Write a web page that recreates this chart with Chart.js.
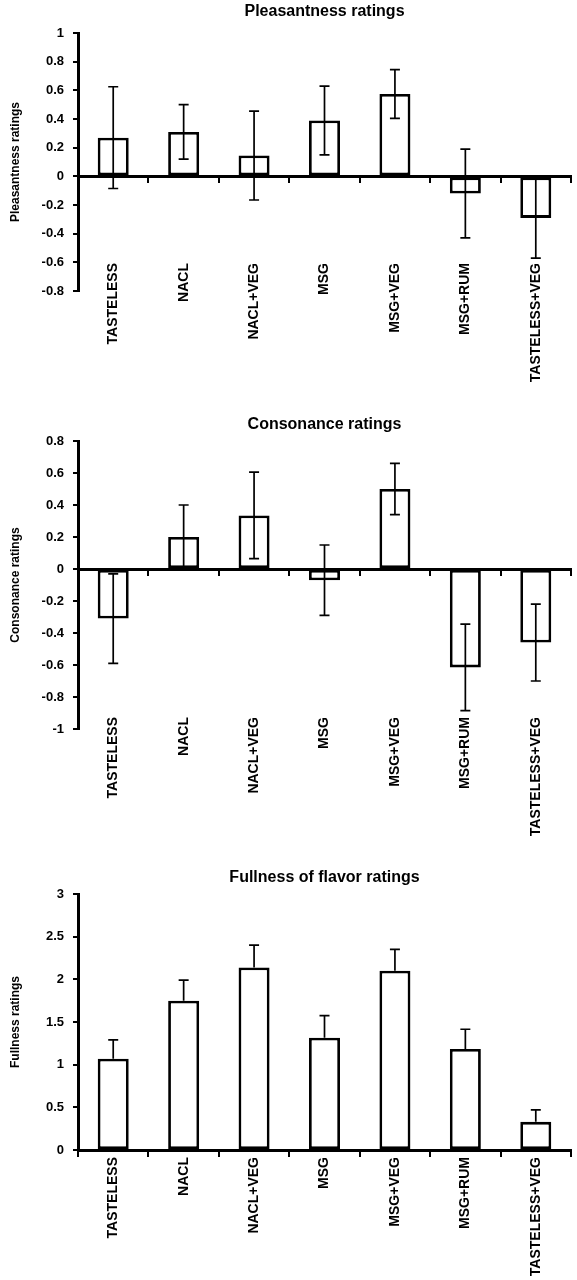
<!DOCTYPE html>
<html>
<head>
<meta charset="utf-8">
<script src="https://cdn.jsdelivr.net/npm/chart.js@4"></script>
<style>
  body { margin: 0; background: #fff; }
  canvas { position: absolute; left: 0; }
</style>
</head>
<body>
<canvas id="pleas" width="577" height="385" style="top:0px"></canvas>
<canvas id="cons" width="577" height="440" style="top:400px"></canvas>
<canvas id="full" width="577" height="420" style="top:860px"></canvas>
<script>
// CATEGORIES (same for all three panels)
const foods = ['TASTELESS', 'NACL', 'NACL+VEG', 'MSG', 'MSG+VEG', 'MSG+RUM', 'TASTELESS+VEG'];

// PLEASANTNESS
const pleasMean = [0.27, 0.31, 0.145, 0.39, 0.575, -0.12, -0.29];
const pleasErr = [0.355, 0.19, 0.31, 0.24, 0.17, 0.31, 0.28];
const pleasTicks = [-0.8, -0.6, -0.4, -0.2, 0, 0.2, 0.4, 0.6, 0.8, 1];

// CONSONANCE
const consMean = [-0.31, 0.2, 0.335, -0.07, 0.5, -0.615, -0.46];
const consErr = [0.28, 0.2, 0.27, 0.22, 0.16, 0.27, 0.24];
const consTicks = [-1, -0.8, -0.6, -0.4, -0.2, 0, 0.2, 0.4, 0.6, 0.8];

// FULLNESS OF FLAVOR
const fullMean = [1.07, 1.75, 2.14, 1.315, 2.1, 1.185, 0.33];
const fullErr = [0.22, 0.24, 0.26, 0.26, 0.25, 0.23, 0.14];
const fullTicks = [0, 0.5, 1, 1.5, 2, 2.5, 3];

Chart.defaults.font.family = "'Liberation Sans', Arial, sans-serif";
Chart.defaults.color = '#000';

// ERROR BARS, drawn on top of the bars
const errorBars = {
    id: 'errorBars',
    afterDatasetsDraw(chart) {
        const ds = chart.data.datasets[0];
        const meta = chart.getDatasetMeta(0);
        const y = chart.scales.y;
        const ctx = chart.ctx;
        ctx.save();
        ctx.strokeStyle = '#000';
        ctx.lineWidth = 1.7;
        meta.data.forEach((bar, i) => {
            const v = ds.data[i];
            const e = ds.errors[i];
            const top = y.getPixelForValue(v + e);
            const bot = ds.upOnly ? y.getPixelForValue(v) : y.getPixelForValue(v - e);
            ctx.beginPath();
            ctx.moveTo(bar.x, top);
            ctx.lineTo(bar.x, bot);
            ctx.moveTo(bar.x - 5, top);
            ctx.lineTo(bar.x + 5, top);
            if (!ds.upOnly) {
                ctx.moveTo(bar.x - 5, bot);
                ctx.lineTo(bar.x + 5, bot);
            }
            ctx.stroke();
        });
        ctx.restore();
    }
};

function drawPanel(id, cfg) {
    const yMin = cfg.ticks[0];
    new Chart(document.getElementById(id), {
        type: 'bar',
        data: {
            labels: foods,
            datasets: [{
                data: cfg.mean,
                errors: cfg.err,
                upOnly: cfg.upOnly,
                backgroundColor: '#fff',
                borderColor: '#000',
                borderWidth: 2.8,
                borderSkipped: false,
                barPercentage: 0.44,
                categoryPercentage: 1
            }]
        },
        options: {
            responsive: false,
            animation: false,
            layout: { padding: { left: 0, right: 6, top: 0, bottom: cfg.xHeight } },
            plugins: {
                legend: { display: false },
                tooltip: { enabled: false },
                title: {
                    display: true,
                    text: cfg.title,
                    fullSize: false,
                    font: { size: 16, weight: 'bold' },
                    color: '#000',
                    padding: { top: cfg.titleTop, bottom: cfg.titleBottom }
                }
            },
            scales: {
                // category labels, hung from the bottom of the value range
                x: {
                    position: { y: yMin },
                    grid: { display: false, drawTicks: false },
                    border: { display: false },
                    ticks: {
                        autoSkip: false,
                        minRotation: 90,
                        maxRotation: 90,
                        padding: cfg.labelPad,
                        font: { size: 14, weight: 'bold' },
                        color: '#000'
                    }
                },
                // axis line and tick marks at zero
                x2: {
                    type: 'category',
                    position: { y: 0 },
                    offset: true,
                    grid: { display: true, offset: true, drawOnChartArea: false, drawTicks: true, tickLength: 5, color: '#000', lineWidth: 2 },
                    border: { display: true, color: '#000', width: 3 },
                    ticks: { display: false }
                },
                y: {
                    min: yMin,
                    max: cfg.ticks[cfg.ticks.length - 1],
                    afterFit: s => { s.width = 78; },
                    afterBuildTicks: s => { s.ticks = cfg.ticks.map(v => ({ value: v })); },
                    grid: { drawOnChartArea: false, drawTicks: true, tickLength: 5, color: '#000', lineWidth: 2 },
                    border: { display: true, color: '#000', width: 3 },
                    ticks: {
                        callback: v => String(Math.round(v * 10) / 10),
                        padding: 9,
                        font: { size: 13, weight: 'bold' },
                        color: '#000'
                    },
                    title: {
                        display: true,
                        text: cfg.yTitle,
                        font: { size: 12, weight: 'bold' },
                        color: '#000',
                        padding: { top: 8, bottom: 0 }
                    }
                }
            }
        },
        plugins: [errorBars]
    });
}

drawPanel('pleas', {
    title: 'Pleasantness ratings', yTitle: 'Pleasantness ratings',
    mean: pleasMean, err: pleasErr, ticks: pleasTicks, upOnly: false,
    titleTop: 2.4, titleBottom: 11.4, xHeight: 94, labelPad: -28
});

drawPanel('cons', {
    title: 'Consonance ratings', yTitle: 'Consonance ratings',
    mean: consMean, err: consErr, ticks: consTicks, upOnly: false,
    titleTop: 15.4, titleBottom: 6.4, xHeight: 111, labelPad: -12
});

drawPanel('full', {
    title: 'Fullness of flavor ratings', yTitle: 'Fullness ratings',
    mean: fullMean, err: fullErr, ticks: fullTicks, upOnly: true,
    titleTop: 8.4, titleBottom: 6.4, xHeight: 130, labelPad: 7
});
</script>
</body>
</html>
